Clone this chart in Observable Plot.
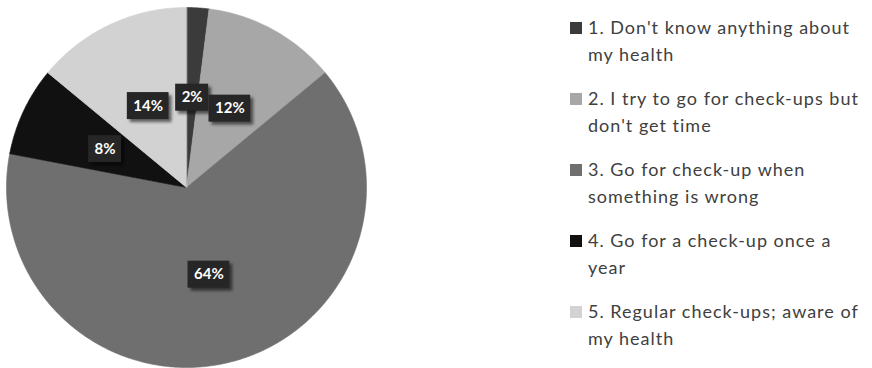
<!DOCTYPE html>
<html>
<head>
<meta charset="utf-8">
<script src="https://cdn.jsdelivr.net/npm/d3@7"></script>
<script src="https://cdn.jsdelivr.net/npm/@observablehq/plot@0.6"></script>
<style>
  body { margin: 0; background: #fff; }
  #wrap { position: relative; width: 872px; height: 368px; overflow: hidden; }
  #legend { position: absolute; left: 570px; top: 14px; display: flex; flex-direction: column; gap: 17px;
            font-family: Lato, "Open Sans", sans-serif; font-size: 18px; letter-spacing: 1px; line-height: 27px; color: #404040; white-space: nowrap; }
  .entry { position: relative; padding-left: 18px; }
  .sw { position: absolute; left: 0; top: 8px; width: 12px; height: 12px; }
</style>
</head>
<body>
<div id="wrap"></div>
<script>
const categories = ["1", "2", "3", "4", "5"];
const legendLines = [
  ["1. Don't know anything about", "my health"],
  ["2. I try to go for check-ups but", "don't get time"],
  ["3. Go for check-up when", "something is wrong"],
  ["4. Go for a check-up once a", "year"],
  ["5. Regular check-ups; aware of", "my health"]
];
const values = [2, 12, 64, 8, 14];
const labels = ["2%", "12%", "64%", "8%", "14%"];
const colors = ["#3b3b3b", "#a7a7a7", "#6f6f6f", "#111111", "#d2d2d2"];

// slice geometry derived from values
const arcs = d3.pie().sort(null).value(d => d)(values);
const slicePts = [];
arcs.forEach((a, i) => {
  slicePts.push({cat: categories[i], x: 0, y: 0});
  const n = Math.max(2, Math.ceil((a.endAngle - a.startAngle) / 0.01));
  for (let k = 0; k <= n; k++) {
    const t = a.startAngle + (a.endAngle - a.startAngle) * k / n;
    slicePts.push({cat: categories[i], x: Math.sin(t), y: Math.cos(t)});
  }
});

const R = 180; // px per data unit
const ctx = document.createElement("canvas").getContext("2d");
ctx.font = "bold 15px Lato, 'Open Sans', sans-serif";
const lab = arcs.map((a, i) => {
  const m = (a.startAngle + a.endAngle) / 2;
  const cx = 0.5 * Math.sin(m), cy = 0.5 * Math.cos(m);
  const w = (ctx.measureText(labels[i]).width + 12) / R / 2;
  const h = 13.5 / R;
  return {label: labels[i], cx, cy, x1: cx - w, x2: cx + w, y1: cy - h, y2: cy + h};
});

const chart = Plot.plot({
  width: 872,
  height: 368,
  margin: 0,
  x: {domain: [-1, 1], range: [6, 366], axis: null},
  y: {domain: [-1, 1], range: [367, 7], axis: null},
  color: {domain: categories, range: colors},
  style: {background: "#fff"},
  marks: [
    Plot.line(slicePts, {x: "x", y: "y", z: "cat", fill: "cat", stroke: "cat", strokeWidth: 0.6, curve: "linear-closed"}),
    Plot.rect(lab, {x1: "x1", x2: "x2", y1: "y1", y2: "y2", fill: "#000", fillOpacity: 0.55, dx: 3, dy: 3, className: "shadow"}),
    Plot.rect(lab, {x1: "x1", x2: "x2", y1: "y1", y2: "y2", fill: "#262626"}),
    Plot.text(lab, {x: "cx", y: "cy", text: "label", fill: "#fff", fontSize: 15, fontWeight: "bold",
      fontFamily: "Lato, 'Open Sans', sans-serif"})
  ]
});

const svg = d3.select(chart);
svg.insert("defs", ":first-child").html('<filter id="blur" x="-20%" y="-20%" width="140%" height="140%"><feGaussianBlur stdDeviation="1.5"/></filter>');
svg.selectAll(".shadow").attr("filter", "url(#blur)");

const wrap = document.getElementById("wrap");
wrap.appendChild(chart);

const legend = document.createElement("div");
legend.id = "legend";
legendLines.forEach((lines, i) => {
  const e = document.createElement("div");
  e.className = "entry";
  const sw = document.createElement("span");
  sw.className = "sw";
  sw.style.background = colors[i];
  e.appendChild(sw);
  lines.forEach((l, j) => {
    const d = document.createElement("div");
    d.textContent = l;
    e.appendChild(d);
  });
  legend.appendChild(e);
});
wrap.appendChild(legend);
</script>
</body>
</html>
